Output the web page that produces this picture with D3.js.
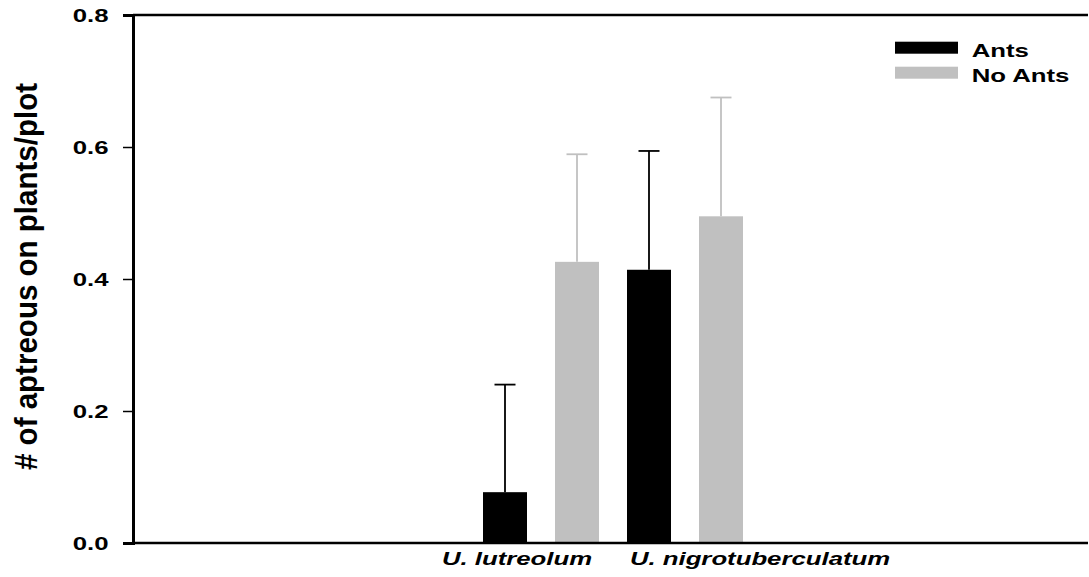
<!DOCTYPE html>
<html>
<head>
<meta charset="utf-8">
<script src="https://cdn.jsdelivr.net/npm/d3@7"></script>
<style>
  html, body { margin: 0; padding: 0; background: #fff; }
  svg { display: block; }
  text { font-family: "Liberation Sans", Arial, sans-serif; font-weight: bold; fill: #000; }
</style>
</head>
<body>
<svg id="chart" width="1089" height="577"></svg>
<script>
// ---- data ----
const categories = ["U. lutreolum", "U. nigrotuberculatum"];
const seriesNames = ["Ants", "No Ants"];
const antsMeans = [0.077, 0.414];
const antsErr = [0.163, 0.180];
const noAntsMeans = [0.426, 0.495];
const noAntsErr = [0.163, 0.180];
const yTicks = [0.0, 0.2, 0.4, 0.6, 0.8];
const yTitle = "# of aptreous on plants/plot";

// ---- layout ----
const W = 1089, H = 577;
const plot = { left: 133, right: 1088, top: 15, bottom: 543 };
const groupRange = [469, 757];
const labelOffsets = [-24, 75];
const stretch = 1.37;
const colors = { "Ants": "#000000", "No Ants": "#c0c0c0" };

const svg = d3.select("#chart");

const y = d3.scaleLinear().domain([0, 0.8]).range([plot.bottom, plot.top]);
const x0 = d3.scaleBand().domain(categories).range(groupRange).padding(0);
const x1 = d3.scaleBand().domain(seriesNames).range([0, x0.bandwidth()])
  .paddingInner(0.389).paddingOuter(0.1945);

const rows = [];
categories.forEach((c, i) => {
  rows.push({ cat: c, series: "Ants", mean: antsMeans[i], err: antsErr[i] });
  rows.push({ cat: c, series: "No Ants", mean: noAntsMeans[i], err: noAntsErr[i] });
});

// error bars
const capW = 21;
const eb = svg.append("g");
rows.forEach(d => {
  const cx = x0(d.cat) + x1(d.series) + x1.bandwidth() / 2;
  const col = colors[d.series];
  eb.append("line").attr("x1", cx).attr("x2", cx)
    .attr("y1", y(d.mean)).attr("y2", y(d.mean + d.err))
    .attr("stroke", col).attr("stroke-width", 1.8);
  eb.append("line").attr("x1", cx - capW / 2).attr("x2", cx + capW / 2)
    .attr("y1", y(d.mean + d.err)).attr("y2", y(d.mean + d.err))
    .attr("stroke", col).attr("stroke-width", 1.8);
});

// bars
svg.append("g").selectAll("rect").data(rows).join("rect")
  .attr("x", d => x0(d.cat) + x1(d.series))
  .attr("width", x1.bandwidth())
  .attr("y", d => y(d.mean))
  .attr("height", d => y(0) - y(d.mean))
  .attr("fill", d => colors[d.series]);

// frame lines
svg.append("line").attr("x1", plot.left).attr("x2", plot.right)
  .attr("y1", plot.top).attr("y2", plot.top).attr("stroke", "#000").attr("stroke-width", 2.5);
svg.append("line").attr("x1", plot.left).attr("x2", plot.right)
  .attr("y1", plot.bottom).attr("y2", plot.bottom).attr("stroke", "#000").attr("stroke-width", 2.5);

// y axis
const yAxis = d3.axisLeft(y).tickValues(yTicks).tickFormat(d3.format(".1f")).tickSizeOuter(0).tickSize(10).tickPadding(0);
const ya = svg.append("g").attr("transform", `translate(${plot.left},0)`).call(yAxis);
ya.select(".domain").attr("stroke", "#000").attr("stroke-width", 3);
ya.selectAll(".tick line").attr("stroke", "#000").attr("stroke-width", 1.5);
ya.selectAll(".tick text").remove();
yTicks.forEach(t => {
  svg.append("text")
    .attr("transform", `translate(108.5,${y(t)}) scale(${stretch},1)`)
    .attr("text-anchor", "end").attr("dy", "0.36em")
    .style("font-size", "18.8px")
    .text(d3.format(".1f")(t));
});

// y title
svg.append("text")
  .attr("transform", `translate(36.5,276.5) rotate(-90)`)
  .attr("text-anchor", "middle")
  .attr("textLength", 387).attr("lengthAdjust", "spacingAndGlyphs")
  .style("font-size", "31px")
  .text(yTitle);

// category labels
categories.forEach((c, i) => {
  const cx = x0(c) + x0.bandwidth() / 2 + labelOffsets[i];
  svg.append("text")
    .attr("transform", `translate(${cx},565) scale(${stretch},1)`)
    .attr("text-anchor", "middle")
    .style("font-size", "18.8px").style("font-style", "italic")
    .text(c);
});

// legend
const lg = svg.append("g");
seriesNames.forEach((s, i) => {
  const yy = 41.7 + i * 25;
  lg.append("rect").attr("x", 895).attr("y", yy).attr("width", 63).attr("height", 12)
    .attr("fill", colors[s]);
  lg.append("text")
    .attr("transform", `translate(971.7,${yy + 15.5}) scale(${stretch},1)`)
    .style("font-size", "18.8px")
    .text(s);
});
</script>
</body>
</html>
